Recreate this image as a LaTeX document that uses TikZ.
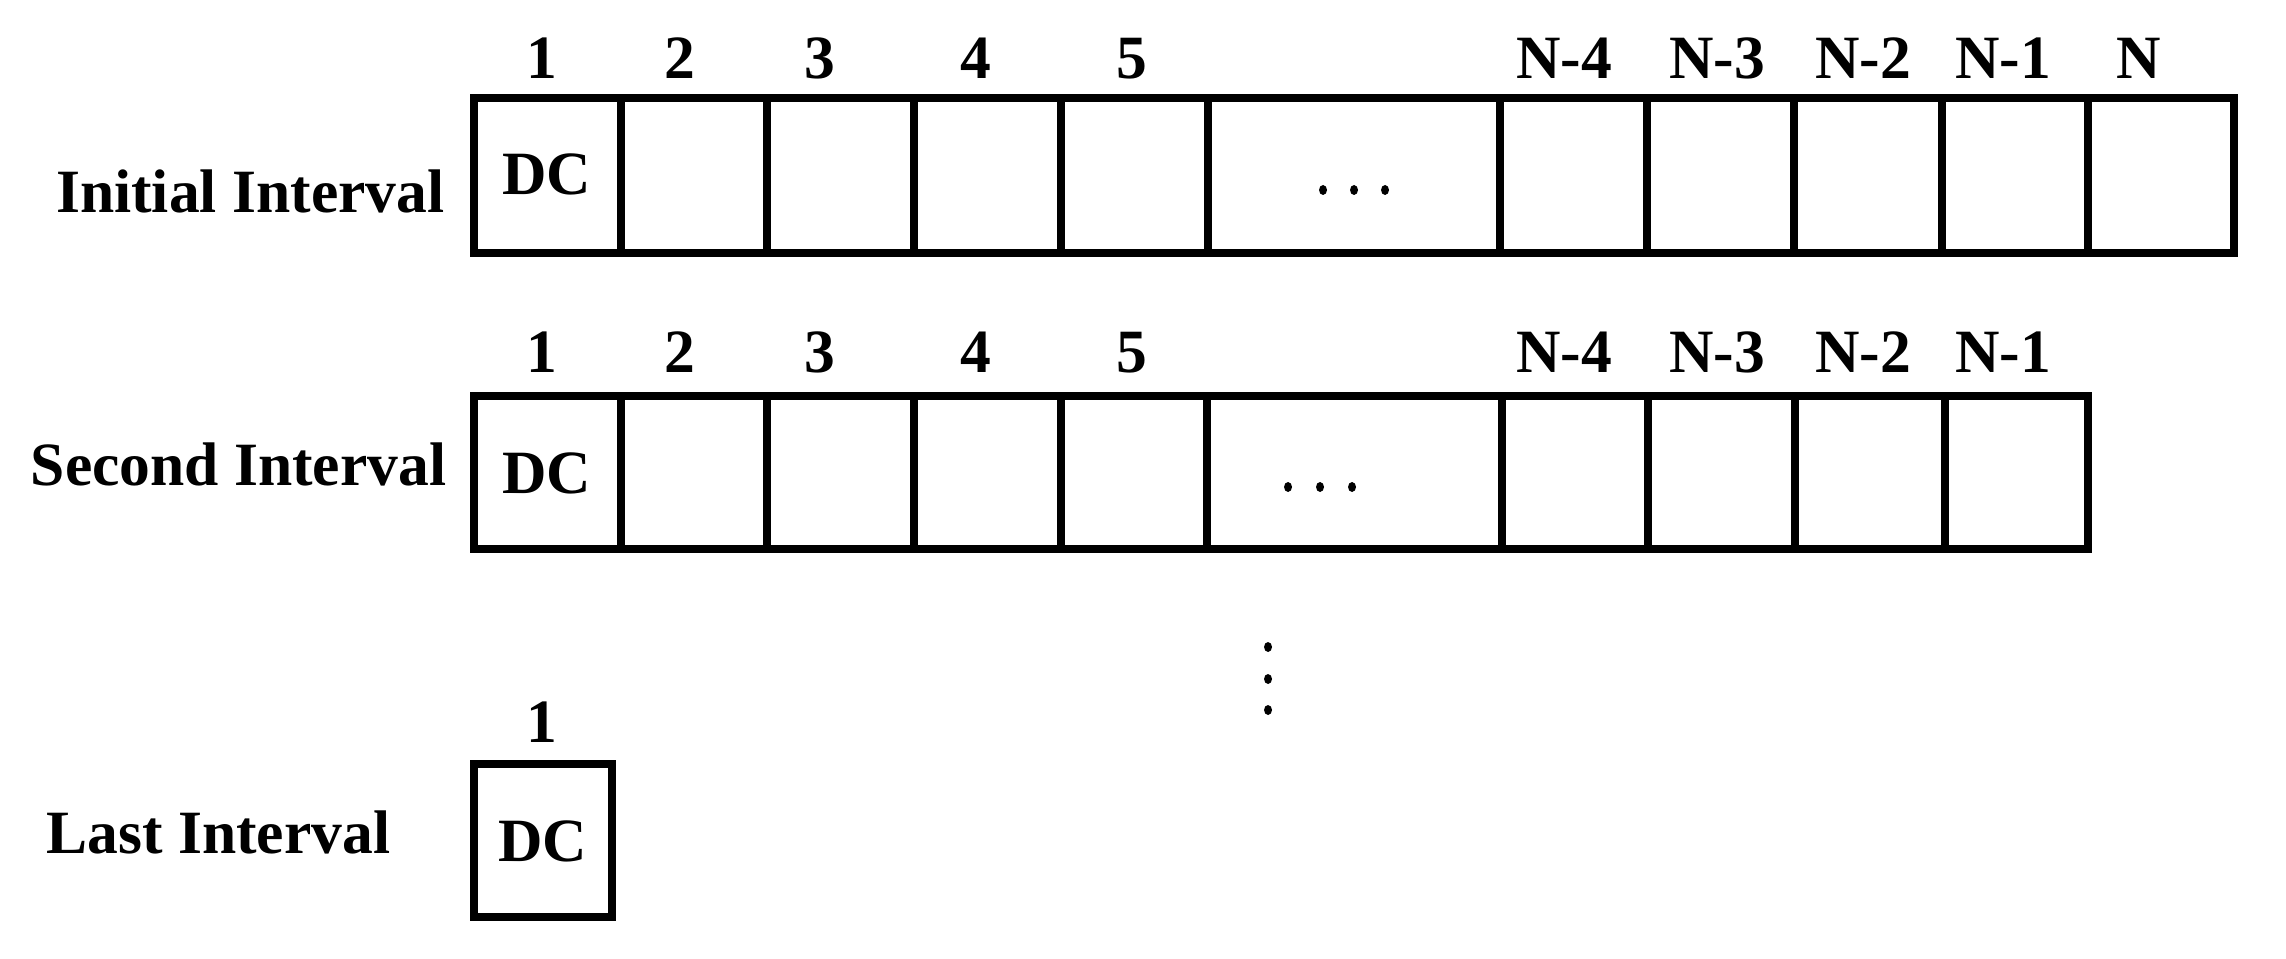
\documentclass[tikz,border=0pt]{standalone}
\usepackage{fontspec}
\setmainfont{Liberation Serif}
\begin{document}
\begin{tikzpicture}[x=0.01cm, y=-0.01cm,
  font=\fontsize{17.5}{20}\selectfont\bfseries,
  cellbox/.style={draw, line width=0.08cm, inner sep=0pt, outer sep=0pt},
  lbl/.style={anchor=base, inner sep=0pt},
  rowlbl/.style={anchor=base east, inner sep=0pt},
  dotmark/.style={fill=black}]
\useasboundingbox (0,0) rectangle (2286,958);

% ---- Initial interval cells
\foreach \a/\b/\n in {474/621/1, 621/767/2, 767/914/3, 914/1061/4, 1061/1208/5,
  1208/1500/d, 1500/1647/n4, 1647/1794/n3, 1794/1942/n2, 1942/2088/n1, 2088/2234/n}
{
  \pgfmathsetmacro\w{(\b-\a)*0.01}
  \node[cellbox, minimum width=\w cm, minimum height=1.54cm] (ra\n) at ({(\a+\b)/2},175.5) {};
}
% ---- Second interval cells
\foreach \a/\b/\n in {474/621/1, 621/767/2, 767/914/3, 914/1061/4, 1061/1207/5,
  1207/1502/d, 1502/1648/n4, 1648/1795/n3, 1795/1945/n2, 1945/2088/n1}
{
  \pgfmathsetmacro\w{(\b-\a)*0.01}
  \node[cellbox, minimum width=\w cm, minimum height=1.53cm] (rb\n) at ({(\a+\b)/2},472.5) {};
}
% ---- Last interval cell
\node[cellbox, minimum width=1.38cm, minimum height=1.53cm] (rc1) at (543,840.5) {};

% ---- index labels, row 1
\foreach \x/\t/\n in {542/1/1, 680/2/2, 820/3/3, 976/4/4, 1132/5/5,
  1564/N-4/n4, 1717/N-3/n3, 1863/N-2/n2, 2003/N-1/n1, 2139/N/n}
  \node[lbl] (ia\n) at (\x,79) {\t};
% ---- index labels, row 2
\foreach \x/\t/\n in {542/1/1, 680/2/2, 820/3/3, 976/4/4, 1132/5/5,
  1564/N-4/n4, 1717/N-3/n3, 1863/N-2/n2, 2003/N-1/n1}
  \node[lbl] (ib\n) at (\x,373) {\t};
% ---- index label, last
\node[lbl] (ic1) at (542,742) {1};

% ---- DC texts
\node[lbl] (dca) at (547,195) {DC};
\node[lbl] (dcb) at (547,493) {DC};
\node[lbl] (dcc) at (543,861) {DC};

% ---- row labels
\node[rowlbl] (la) at (445,213) {Initial Interval};
\node[rowlbl] (lb) at (447,485) {Second Interval};
\node[anchor=base west, inner sep=0pt] (lc) at (46,853) {Last Interval};

% ---- ellipses
\foreach \x in {1323,1354,1385} \fill[dotmark] (\x,190) ellipse [x radius=4, y radius=5];
\foreach \x in {1288,1320,1352} \fill[dotmark] (\x,487) ellipse [x radius=4, y radius=5];
\foreach \y in {647,679,710} \fill[dotmark] (1268,\y) ellipse [x radius=4, y radius=5];
\end{tikzpicture}
\end{document}
